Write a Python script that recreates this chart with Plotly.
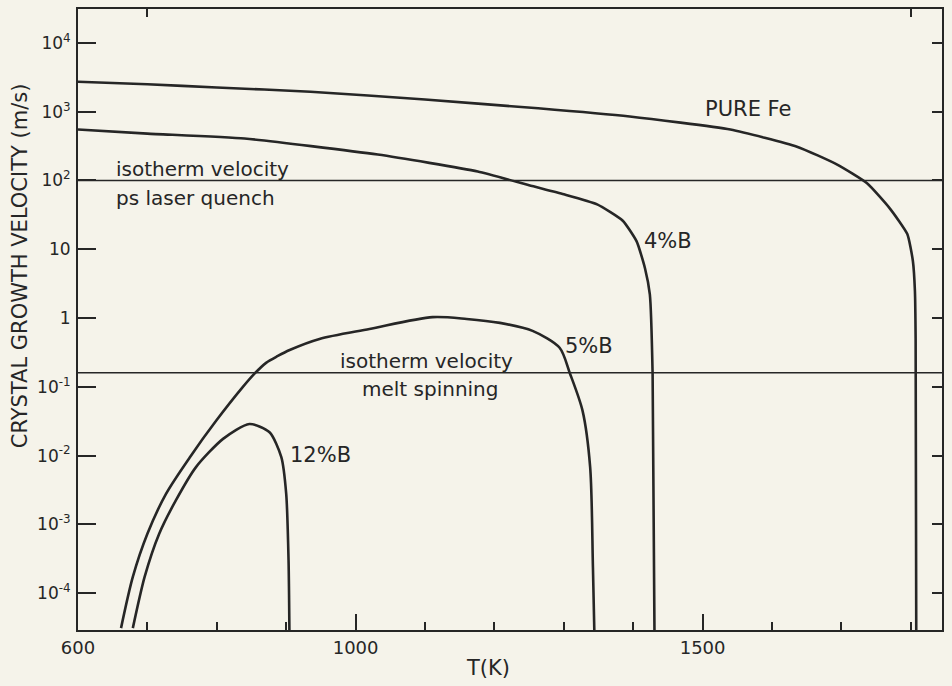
import math
import plotly.graph_objects as go

# ---- data ----
T_fe = [600, 700, 800, 935, 1100, 1263, 1395, 1540, 1636, 1694, 1737, 1770, 1795, 1803, 1806, 1807, 1808]
v_fe = [2720, 2500, 2250, 1950, 1500, 1120, 850, 550, 310, 170, 91, 39, 16.6, 6.8, 2.45, 0.5, 1e-5]

T_4b = [600, 700, 840, 1032, 1176, 1250, 1300, 1348, 1385, 1405, 1417, 1424, 1428, 1431]
v_4b = [550, 480, 407, 238, 135, 85, 63, 45, 26, 13, 5.3, 2.2, 0.155, 1e-5]

T_5b = [662, 679, 700, 727, 761, 799, 837, 854, 871, 888, 905, 948, 1020, 1111, 1160, 1208, 1255,
        1294, 1309, 1327, 1338, 1342, 1345]
v_5b = [3.1e-5, 1.72e-4, 7.3e-4, 2.8e-3, 9.4e-3, 0.032, 0.098, 0.154, 0.223, 0.281, 0.343, 0.497,
        0.693, 1.03, 0.97, 0.85, 0.65, 0.37, 0.155, 0.045, 6.8e-3, 2.4e-4, 1e-5]

T_12b = [679, 696, 717, 741, 770, 809, 847, 876, 893, 900, 903.4, 905]
v_12b = [3.1e-5, 1.72e-4, 7.3e-4, 2.23e-3, 6.8e-3, 0.0175, 0.0288, 0.0218, 9.5e-3, 2.8e-3, 3.0e-4, 1e-5]

v_iso_laser = 100      # isotherm velocity, ps laser quench
v_iso_spin = 0.16      # isotherm velocity, melt spinning

y_tickvals = [1e4, 1e3, 1e2, 10, 1, 0.1, 0.01, 0.001, 0.0001]
y_ticktext = ["10<sup>4</sup>", "10<sup>3</sup>", "10<sup>2</sup>", "10", "1",
              "10<sup>-1</sup>", "10<sup>-2</sup>", "10<sup>-3</sup>", "10<sup>-4</sup>"]
x_tickvals = [600, 1000, 1500]
x_ticktext = ["600", "1000", "1500"]
x_minor = [700, 800, 900, 1100, 1200, 1300, 1400, 1600, 1700, 1800]
x_top = [700, 1800]

# text labels
label_text = ["PURE Fe", "isotherm velocity", "ps laser quench", "4%B", "5%B",
              "isotherm velocity", "melt spinning", "12%B"]
label_T = [1566, 652, 652, 1450, 1336, 1102, 1108, 950]
label_v = [1100, 149, 55, 13, 0.39, 0.238, 0.093, 0.0101]
label_anchor = ["center", "left", "left", "center", "center", "center", "center", "center"]
label_size = [21, 20, 20, 21, 21, 20, 20, 21]

X_RANGE = [600, 1845]
Y_RANGE = [-4.536, 4.493]

INK = "#262626"
PAPER = "#f5f3ea"
FONT = "DejaVu Sans"

fig = go.Figure()

curves = [(T_fe, v_fe, 0.5), (T_4b, v_4b, 0.5), (T_5b, v_5b, 0.8), (T_12b, v_12b, 0.7)]
for T, v, sm in curves:
    fig.add_trace(go.Scatter(x=T, y=v, mode="lines",
                             line=dict(color=INK, width=2.6, shape="spline", smoothing=sm),
                             showlegend=False, hoverinfo="skip"))

for v in (v_iso_laser, v_iso_spin):
    fig.add_trace(go.Scatter(x=X_RANGE, y=[v, v], mode="lines",
                             line=dict(color=INK, width=1.6),
                             showlegend=False, hoverinfo="skip"))

# invisible trace for the mirrored axes (right / top ticks)
fig.add_trace(go.Scatter(x=X_RANGE, y=[1, 1], xaxis="x2", yaxis="y2", mode="lines",
                         line=dict(width=0), showlegend=False, hoverinfo="skip"))

for txt, x, v, anchor, size in zip(label_text, label_T, label_v, label_anchor, label_size):
    fig.add_annotation(x=x, y=math.log10(v), text=txt, showarrow=False, xanchor=anchor,
                       yanchor="middle", font=dict(family=FONT, size=size, color=INK))

fig.add_annotation(xref="paper", yref="paper", x=-0.067, y=0.586,
                   xanchor="center", yanchor="middle",
                   text="CRYSTAL GROWTH VELOCITY (m/s)", textangle=-90, showarrow=False,
                   font=dict(family=FONT, size=21, color=INK))
fig.add_annotation(xref="paper", yref="paper", x=0.475, y=-0.061,
                   xanchor="center", yanchor="middle",
                   text="T(K)", showarrow=False,
                   font=dict(family=FONT, size=21, color=INK))

fig.update_layout(
    width=952, height=686,
    margin=dict(l=78, r=10, t=7, b=56),
    paper_bgcolor=PAPER, plot_bgcolor=PAPER,
    font=dict(family=FONT, color=INK),
    xaxis=dict(range=X_RANGE, showgrid=False, zeroline=False,
               showline=True, linecolor=INK, linewidth=2, mirror=True,
               tickvals=x_tickvals, ticktext=x_ticktext,
               ticks="inside", ticklen=16, tickwidth=1.6, tickcolor=INK,
               tickfont=dict(family=FONT, size=18, color=INK),
               minor=dict(tickvals=x_minor, ticks="inside", ticklen=8,
                          tickwidth=1.6, tickcolor=INK, showgrid=False)),
    yaxis=dict(type="log", range=Y_RANGE, showgrid=False, zeroline=False,
               showline=True, linecolor=INK, linewidth=2, mirror=True,
               tickvals=y_tickvals, ticktext=y_ticktext,
               ticks="inside", ticklen=18, tickwidth=1.6, tickcolor=INK,
               ticklabelstandoff=2,
               tickfont=dict(family=FONT, size=17, color=INK)),
    xaxis2=dict(overlaying="x", side="top", range=X_RANGE, showgrid=False,
                zeroline=False, showline=False, tickvals=x_top,
                ticks="inside", ticklen=8, tickwidth=1.6, tickcolor=INK,
                showticklabels=False),
    yaxis2=dict(overlaying="y", side="right", type="log", range=Y_RANGE,
                showgrid=False, zeroline=False, showline=False,
                tickvals=y_tickvals, ticks="inside", ticklen=10, tickwidth=1.6,
                tickcolor=INK, showticklabels=False),
)

fig.write_html("out.html", config={"displayModeBar": False},
               post_script="document.body.style.margin='0';document.body.style.background='%s';" % PAPER)
